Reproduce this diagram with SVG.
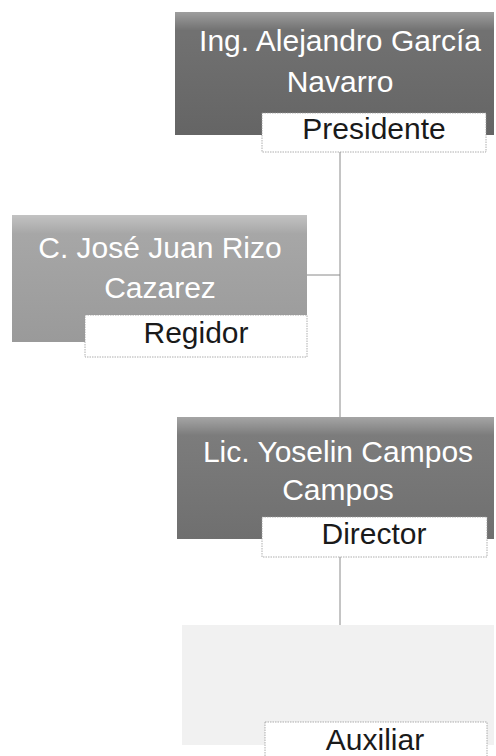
<svg xmlns="http://www.w3.org/2000/svg" width="496" height="756" viewBox="0 0 496 756">
<style>
.name{font-family:"Liberation Sans",Arial,sans-serif;font-size:30px;fill:#ffffff;text-anchor:middle}
.role{font-family:"Liberation Sans",Arial,sans-serif;font-size:30px;fill:#1a1a1a;text-anchor:middle}
.lbl{fill:#ffffff;stroke:#9a9a9a;stroke-width:0.8;stroke-dasharray:1.5 1}
.conn{stroke:#8a8a8a;stroke-width:1;fill:none}
</style>
<defs>
<linearGradient id="sheen" x1="0" y1="0" x2="0" y2="1">
<stop offset="0" stop-color="#ffffff" stop-opacity="0.35"/>
<stop offset="0.15" stop-color="#ffffff" stop-opacity="0.05"/>
<stop offset="1" stop-color="#000000" stop-opacity="0.05"/>
</linearGradient>
</defs>
<g id="connectors">
<line class="conn" x1="340" y1="152" x2="340" y2="417"/>
<line class="conn" x1="307" y1="275" x2="340" y2="275"/>
<line class="conn" x1="340" y1="557" x2="340" y2="625"/>
</g>
<g id="presidente">
<rect x="175" y="12" width="319" height="123" fill="#6a6a6a"/>
<rect x="175" y="12" width="319" height="123" fill="url(#sheen)"/>
<text class="name" x="340" y="51">Ing. Alejandro García</text>
<text class="name" x="340" y="92">Navarro</text>
<rect class="lbl" x="262" y="113" width="224" height="39"/>
<text class="role" x="374" y="139">Presidente</text>
</g>
<g id="regidor">
<rect x="12" y="215" width="295" height="127" fill="#a2a2a2"/>
<rect x="12" y="215" width="295" height="127" fill="url(#sheen)"/>
<text class="name" x="160" y="258">C. José Juan Rizo</text>
<text class="name" x="160" y="298">Cazarez</text>
<rect class="lbl" x="85" y="315" width="222" height="42"/>
<text class="role" x="196" y="343">Regidor</text>
</g>
<g id="director">
<rect x="177" y="417" width="317" height="122" fill="#757575"/>
<rect x="177" y="417" width="317" height="122" fill="url(#sheen)"/>
<text class="name" x="338" y="462">Lic. Yoselin Campos</text>
<text class="name" x="338" y="500">Campos</text>
<rect class="lbl" x="262" y="517" width="225" height="40"/>
<text class="role" x="374" y="544">Director</text>
</g>
<g id="auxiliar">
<rect x="182" y="625" width="312" height="120" fill="#f1f1f1"/>
<rect class="lbl" x="265" y="722" width="222" height="40"/>
<text class="role" x="375" y="750">Auxiliar</text>
</g>
</svg>
